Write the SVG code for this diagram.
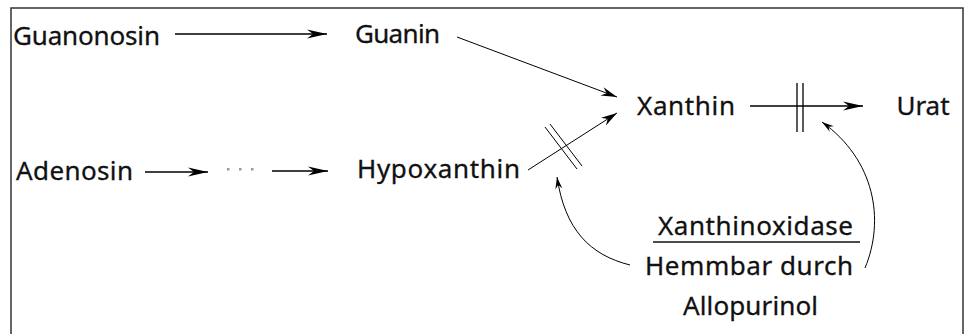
<svg xmlns="http://www.w3.org/2000/svg" width="967" height="334" viewBox="0 0 967 334">
<style>
text{font-family:"Noto Sans","Liberation Sans",sans-serif;font-size:26px;fill:#111;stroke:#111;stroke-width:0.3}
.c{stroke:#000;stroke-width:1.3;fill:none}
.t{stroke:#000;stroke-width:1;fill:none}
</style>
<defs>
<marker id="big" markerUnits="userSpaceOnUse" orient="auto" markerWidth="22" markerHeight="12" viewBox="-21 -6 22 12" refX="0" refY="0">
<path d="M0,0 L-20,-4.5 L-14,0 L-20,4.5 Z" fill="#000"/>
</marker>
<marker id="mid" markerUnits="userSpaceOnUse" orient="auto" markerWidth="18" markerHeight="10" viewBox="-17 -5 18 10" refX="0" refY="0">
<path d="M0,0 L-16,-4.5 L-11,0 L-16,4.5 Z" fill="#000"/>
</marker>
<marker id="sm" markerUnits="userSpaceOnUse" orient="auto" markerWidth="14" markerHeight="8" viewBox="-13 -4 14 8" refX="0" refY="0">
<path d="M0,0 L-12,-3.5 L-8,0 L-12,3.5 Z" fill="#000"/>
</marker>
</defs>
<rect x="11" y="8" width="952" height="340" fill="#fff" stroke="#333" stroke-width="1.5"/>
<g id="connectors">
<line class="c" x1="175" y1="34" x2="327" y2="34" marker-end="url(#big)"/>
<line class="t" x1="457" y1="37" x2="617" y2="97" marker-end="url(#mid)"/>
<line class="t" x1="528" y1="170" x2="617" y2="113" marker-end="url(#mid)"/>
<line class="t" x1="545" y1="127" x2="577" y2="169"/>
<line class="t" x1="550" y1="124" x2="582" y2="166"/>
<line class="c" x1="750" y1="106" x2="863" y2="106" marker-end="url(#big)"/>
<line class="c" x1="797" y1="83" x2="797" y2="132"/>
<line class="c" x1="803" y1="83" x2="803" y2="132"/>
<line class="c" x1="145" y1="172" x2="208" y2="172" marker-end="url(#big)"/>
<g fill="#999"><rect x="227" y="168" width="2.5" height="2.5"/><rect x="239" y="168" width="2.5" height="2.5"/><rect x="251" y="168" width="2.5" height="2.5"/></g>
<line class="c" x1="272" y1="171" x2="328" y2="171" marker-end="url(#big)"/>
<path class="t" d="M630,265 C590,255 565,230 557,177" marker-end="url(#sm)"/>
<path class="t" d="M865,268 C885,220 875,160 822,122" marker-end="url(#sm)"/>
</g>
<g id="guanonosin"><text x="13" y="45" textLength="147" lengthAdjust="spacing">Guanonosin</text></g>
<g id="guanin"><text x="355" y="43" textLength="85" lengthAdjust="spacing">Guanin</text></g>
<g id="xanthin"><text x="637" y="115" textLength="98" lengthAdjust="spacing">Xanthin</text></g>
<g id="urat"><text x="923" y="115" text-anchor="middle">Urat</text></g>
<g id="adenosin"><text x="16" y="180" textLength="117" lengthAdjust="spacing">Adenosin</text></g>
<g id="hypoxanthin"><text x="357" y="178" textLength="163" lengthAdjust="spacing">Hypoxanthin</text></g>
<g id="enzyme">
<text x="658" y="235" textLength="195" lengthAdjust="spacing">Xanthinoxidase</text>
<line x1="653" y1="242" x2="860" y2="242" stroke="#111" stroke-width="1.5"/>
<text x="645" y="275" textLength="208" lengthAdjust="spacing">Hemmbar durch</text>
<text x="683" y="315" textLength="135" lengthAdjust="spacing">Allopurinol</text>
</g>
</svg>
